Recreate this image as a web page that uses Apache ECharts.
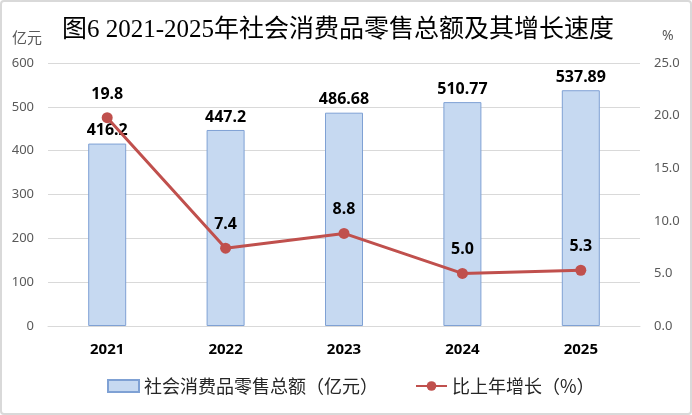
<!DOCTYPE html>
<html>
<head>
<meta charset="utf-8">
<script src="https://cdn.jsdelivr.net/npm/echarts@6/dist/echarts.min.js"></script>
<style>
html, body { margin: 0; padding: 0; background: #fff; }
#main { width: 692px; height: 415px; }
</style>
</head>
<body>
<div id="main"></div>
<script>
// 社会消费品零售总额及其增长速度
var years = ['2021', '2022', '2023', '2024', '2025'];
var retailTotal = [416.2, 447.2, 486.68, 510.77, 537.89];   // 亿元
var growthRate = [19.8, 7.4, 8.8, 5.0, 5.3];                // %
var leftTicks = { min: 0, max: 600, interval: 100 };
var rightTicks = { min: 0, max: 25, interval: 5 };

var cjk = "'Noto Sans CJK SC', 'Noto Sans', sans-serif";
var num = "'Noto Sans', 'Liberation Sans', sans-serif";

var myChart = echarts.init(document.getElementById('main'));
var option = {
    animation: false,
    backgroundColor: '#fff',
    title: {
        text: '图6 2021-2025年社会消费品零售总额及其增长速度',
        left: 57,
        top: 13,
        textStyle: {
            fontFamily: "'Liberation Serif', 'Noto Sans CJK SC', serif",
            fontSize: 25,
            fontWeight: 'normal',
            color: '#000'
        }
    },
    graphic: [{
        type: 'rect',
        shape: { x: 1, y: 1, width: 690, height: 413, r: 3 },
        style: { fill: 'none', stroke: '#d9d9d9', lineWidth: 2 },
        silent: true
    }],
    legend: {
        left: 102,
        top: 372,
        itemWidth: 31,
        itemHeight: 12,
        itemGap: 37,
        textStyle: { fontFamily: cjk, fontSize: 18, color: '#262626' },
        data: [
            { name: '社会消费品零售总额（亿元）', icon: 'rect' },
            { name: '比上年增长（%）' }
        ]
    },
    grid: {
        left: 48,
        right: 52,
        top: 63,
        bottom: 89
    },
    xAxis: {
        type: 'category',
        data: years,
        axisTick: { show: false },
        axisLine: { lineStyle: { color: '#d9d9d9', width: 1 } },
        axisLabel: {
            margin: 16,
            fontFamily: num,
            fontSize: 15,
            fontWeight: 'bold',
            color: '#000'
        }
    },
    yAxis: [
        {
            type: 'value',
            name: '亿元',
            nameGap: 18,
            nameTextStyle: { fontFamily: cjk, fontSize: 15, color: '#595959', align: 'right', padding: [0, 6, 0, 0] },
            min: leftTicks.min,
            max: leftTicks.max,
            interval: leftTicks.interval,
            axisLine: { show: false },
            axisTick: { show: false },
            splitLine: { lineStyle: { color: '#d9d9d9', width: 1 } },
            axisLabel: { margin: 14, fontFamily: num, fontSize: 13, color: '#595959' }
        },
        {
            type: 'value',
            name: '%',
            nameGap: 20,
            nameTextStyle: { fontFamily: num, fontSize: 14, color: '#595959', align: 'left', padding: [0, 0, 0, 22] },
            min: rightTicks.min,
            max: rightTicks.max,
            interval: rightTicks.interval,
            axisLine: { show: false },
            axisTick: { show: false },
            splitLine: { show: false },
            axisLabel: {
                margin: 14,
                fontFamily: num,
                fontSize: 13,
                color: '#595959',
                formatter: function (v) { return v.toFixed(1); }
            }
        }
    ],
    series: [
        {
            name: '社会消费品零售总额（亿元）',
            type: 'bar',
            yAxisIndex: 0,
            barWidth: 38,
            data: retailTotal,
            itemStyle: { color: '#c6d9f1', borderColor: '#7fa1d4', borderWidth: 1 },
            label: {
                show: true,
                position: 'top',
                distance: 5,
                fontFamily: num,
                fontSize: 16,
                fontWeight: 'bold',
                color: '#000'
            }
        },
        {
            name: '比上年增长（%）',
            type: 'line',
            yAxisIndex: 1,
            data: growthRate,
            symbol: 'circle',
            symbolSize: 11,
            color: '#c0504d',
            lineStyle: { color: '#c0504d', width: 3 },
            itemStyle: { color: '#c0504d' },
            label: {
                show: true,
                position: 'top',
                distance: 10,
                fontFamily: num,
                fontSize: 16,
                fontWeight: 'bold',
                color: '#000',
                formatter: function (p) { return p.value.toFixed(1); }
            }
        }
    ]
};
myChart.setOption(option);
</script>
</body>
</html>
